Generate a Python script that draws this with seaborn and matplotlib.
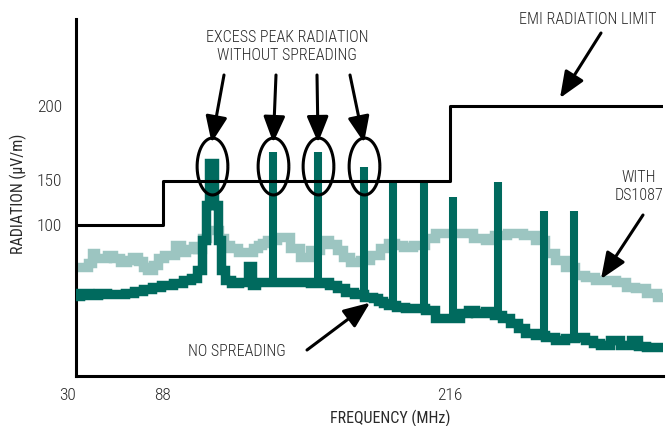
import numpy as np
import matplotlib
matplotlib.use("Agg")
import matplotlib.pyplot as plt
from matplotlib.path import Path
from matplotlib import font_manager
import seaborn as sns
import pandas as pd

# radiation with DS1087 spread spectrum (light trace)
freq_ds = [30, 36, 39.4, 41.5, 44, 49, 53, 56, 62.8, 66, 69.4, 73, 76, 79.5, 83, 86.2,
           91.3, 95.7, 97, 100.2, 102.4, 104.6, 106.4, 109.1, 111.8, 114, 116.7, 119,
           123.8, 127, 129.2, 131.4, 133.6, 135.8, 142.5, 147, 151.5, 156, 160.4, 164,
           167.1, 169.3, 173.8, 178.3, 182.7, 187.2, 189.4, 194, 196.1, 202.8, 207.2,
           211.7, 216.2, 222.9, 229.5, 234, 237.6, 245.2, 251.9, 256.3, 260.8, 265.3,
           269.7, 274.2, 278.7, 283.1, 287.6, 292.1, 296.5, 301, 305.5, 311]
rad_ds = [72.1, 72.1, 74.8, 81.4, 78.1, 78.1, 80.1, 78.1, 75.4, 76.8, 78.8, 76.1, 72.1,
          70.1, 73.5, 78.1, 80.1, 86.7, 82.1, 84.1, 86.1, 84.1, 91.4, 96.7, 96.7, 91.4,
          86.7, 84.7, 82.1, 82.1, 84.7, 86.7, 88.1, 90.0, 92.0, 84.7, 78.8, 83.4, 90.0,
          87.5, 83.4, 78.8, 75.4, 77.0, 80.1, 84.7, 88.1, 86.5, 85.4, 86.7, 91.4, 94.7,
          94.7, 94.7, 91.4, 90.0, 93.4, 94.7, 93.4, 90.0, 81.4, 76.8, 72.1, 66.8, 65.5,
          63.5, 63.5, 62.2, 58.9, 58.2, 54.9, 52.2]

# radiation without spreading (dark trace, broad peak near 110 MHz)
freq_ns = [30, 36, 42, 48, 54, 60, 66, 72, 78, 84, 90, 95, 99, 102, 104.6, 106.4, 107.8,
           109.1, 110.4, 111.8, 113.1, 114.9, 116.7, 120.2, 123.8, 125.6, 126.4, 127.2,
           128.2, 131.4, 135, 142.5, 147, 151.5, 156, 160.4, 164, 167.1, 171.6, 175,
           180.5, 182.7, 185, 187.2, 190, 193.9, 198.3, 202.8, 207.2, 211.7, 216.2, 218.4,
           222.9, 225.1, 229.5, 234, 237.6, 240.7, 245.2, 247.4, 251.9, 256.3, 260.8,
           265.3, 269.7, 274.2, 278.7, 280.9, 285.4, 289.8, 294.3, 298.8, 301, 305.5, 311]
rad_ns = [52.9, 54.9, 53.6, 54.9, 54.2, 54.2, 54.9, 56.2, 57.5, 58.9, 60.2, 61.5, 63.5,
          64.8, 70.1, 90.0, 122.0, 161.9, 161.9, 122.0, 90.0, 70.1, 63.5, 61.5, 62.2,
          62.2, 72.8, 72.8, 60.2, 62.2, 62.2, 62.2, 62.2, 62.2, 61.5, 62.2, 60.2, 58.2,
          55.5, 54.2, 52.5, 51.6, 49.5, 48.2, 47.0, 45.8, 45.2, 44.9, 43.6, 38.3, 38.3,
          38.3, 41.6, 43.6, 41.6, 43.0, 40.5, 38.3, 35.0, 31.7, 28.3, 27.0, 25.7, 23.7,
          25.0, 25.7, 24.0, 21.7, 20.4, 23.7, 20.4, 23.7, 19.5, 19.0, 19.0]

# narrow harmonics on the unspread trace
spike_freq = [137.3, 157.3, 177.8, 190.7, 204.6, 217.5, 237.6, 258.1, 271.5]
spike_top = [169.3, 169.3, 159.3, 150, 150, 131.8, 148.7, 115.7, 115.7]

# EMI radiation limit
limit_freq = [30, 88, 216, 311]
limit_level = [100, 150, 200, 200]

x_ticks = [30, 88, 216]
y_ticks = [100, 150, 200]

DARK = "#006a5e"
LIGHT = "#9cc5c1"
TXT = "#2a2a2a"

# the original axes are drawn out of scale, so map them piecewise
X_KNOTS, X_POS = [30, 88, 216, 311], [0, 86.7, 373.7, 587]
Y_KNOTS, Y_POS = [0, 100, 150, 200, 258], [0, 150.7, 195.2, 269.7, 356.7]

def fwd_x(v):
    return np.interp(np.asarray(v, float), X_KNOTS, X_POS)

def inv_x(v):
    return np.interp(np.asarray(v, float), X_POS, X_KNOTS)

def fwd_y(v):
    return np.interp(np.asarray(v, float), Y_KNOTS, Y_POS)

def inv_y(v):
    return np.interp(np.asarray(v, float), Y_POS, Y_KNOTS)

sns.set_style("white")
names = {f.name for f in font_manager.fontManager.ttflist}
family, FS = "Liberation Sans", 10
for cand in ["Liberation Sans Narrow", "Roboto Condensed", "Open Sans Condensed",
             "DejaVu Sans Condensed"]:
    if cand in names:
        family, FS = cand, 11.5
        break
plt.rcParams["font.family"] = [family, "DejaVu Sans"]
plt.rcParams["font.weight"] = "light"

W, H = 666, 426
fig = plt.figure(figsize=(W / 100, H / 100), dpi=100)
ax = fig.add_axes([76 / W, (H - 375.7) / H, 587 / W, 356.7 / H])
ax.set_xscale("function", functions=(fwd_x, inv_x))
ax.set_yscale("function", functions=(fwd_y, inv_y))

df_ds = pd.DataFrame({"freq": freq_ds, "rad": rad_ds})
df_ns = pd.DataFrame({"freq": freq_ns, "rad": rad_ns})
df_lim = pd.DataFrame({"freq": limit_freq, "rad": limit_level})

sns.lineplot(data=df_ds, x="freq", y="rad", ax=ax, color=LIGHT, lw=6.8,
             drawstyle="steps-mid", solid_joinstyle="miter", zorder=2)
sns.lineplot(data=df_ns, x="freq", y="rad", ax=ax, color=DARK, lw=6.8,
             drawstyle="steps-mid", solid_joinstyle="miter", zorder=3)
base = np.interp(spike_freq, freq_ns, rad_ns)
ax.vlines(spike_freq, base, spike_top, color=DARK, lw=5.8, zorder=3,
          capstyle="butt")
sns.lineplot(data=df_lim, x="freq", y="rad", ax=ax, color="black", lw=2.2,
             drawstyle="steps-post", zorder=4)

# circles round the excess peaks
circled = [109.8] + spike_freq[:3]
t = np.linspace(0, 2 * np.pi, 60)
ell = Path(np.column_stack([0.54 * np.cos(t), np.sin(t)]))
ax.plot(circled, [160] * 4, ls="none", marker=ell, ms=41, mfc="none",
        mec="black", mew=2.2, zorder=5)

ax.set_xlim(30, 311)
ax.set_ylim(0, 258)
ax.set_xticks(x_ticks)
ax.set_xticklabels([str(v) for v in x_ticks])
ax.set_yticks(y_ticks)
ax.set_yticklabels([str(v) for v in y_ticks])
ax.get_xticklabels()[0].set_horizontalalignment("right")
ax.minorticks_off()

for s in ["top", "right"]:
    ax.spines[s].set_visible(False)
for s in ["left", "bottom"]:
    ax.spines[s].set_linewidth(2.2)
    ax.spines[s].set_color("black")
ax.tick_params(axis="y", direction="inout", length=14, width=2.2, pad=3,
               labelsize=FS + 1, labelcolor=TXT)
ax.tick_params(axis="x", direction="inout", length=10, width=2.2, pad=4,
               labelsize=FS + 1, labelcolor=TXT)

ax.set_xlabel("FREQUENCY (MHz)", fontsize=FS, color=TXT, va="center")
ax.xaxis.set_label_coords((390 - 76) / 587, -42.3 / 356.7)
ax.set_ylabel("RADIATION (\u00b5V/m)", fontsize=FS, color=TXT, va="center")
ax.yaxis.set_label_coords((18 - 76) / 587, 0.509)

def fig_text(x, y, s):
    fig.text(x / W, (H - y) / H, s, ha="center", va="center", fontsize=FS,
             color=TXT, linespacing=1.25)

fig_text(287, 46.7, "EXCESS PEAK RADIATION\nWITHOUT SPREADING")
fig_text(588, 20, "EMI RADIATION LIMIT")
fig_text(639, 187, "WITH\nDS1087")
fig_text(237, 352, "NO SPREADING")

arrow = dict(arrowstyle="-|>,head_length=0.8,head_width=0.33", mutation_scale=20,
             lw=2.2, color="black", shrinkA=0, shrinkB=0)
for f, tx in zip(circled, [224, 276, 317, 350]):
    ax.annotate("", xy=(f, 175.4), xycoords="data", xytext=(tx, H - 75),
                textcoords="figure pixels", arrowprops=arrow, zorder=6)
for tail, tip in [((601, 33), (560, 98)), ((643, 215), (601, 279)),
                  ((307, 350), (370, 302.7))]:
    ax.annotate("", xy=(tip[0], H - tip[1]), xycoords="figure pixels",
                xytext=(tail[0], H - tail[1]), textcoords="figure pixels",
                arrowprops=arrow, zorder=6)

fig.savefig("out.png", dpi=100)
